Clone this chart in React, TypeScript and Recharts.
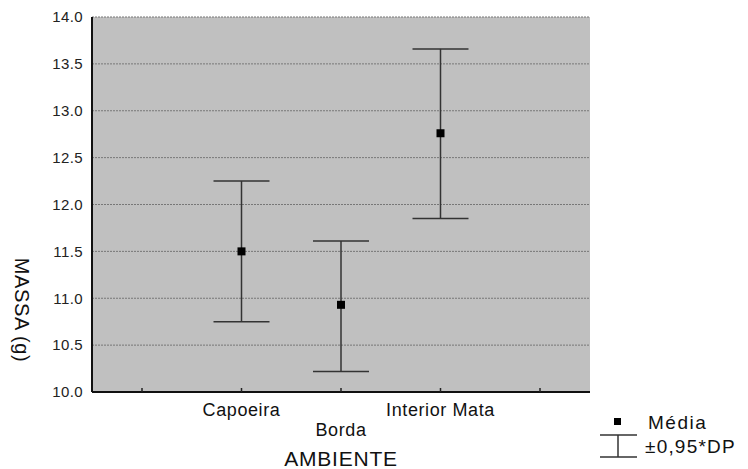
import React from 'react';
import {
  LineChart,
  Line,
  XAxis,
  YAxis,
  CartesianGrid,
  ErrorBar,
  Legend,
} from 'recharts';

const categories = ['', 'Capoeira', 'Borda', 'Interior Mata', ''];
const means = [null, 11.5, 10.93, 12.76, null];
const lower = [null, 10.75, 10.22, 11.85, null];
const upper = [null, 12.25, 11.61, 13.66, null];
const yTicks = [10, 10.5, 11, 11.5, 12, 12.5, 13, 13.5, 14];

const data = categories.map((c, i) => ({
  ambiente: c,
  massa: means[i],
  err: means[i] == null ? null : [means[i]! - lower[i]!, upper[i]! - means[i]!],
}));

const FONT = '"Liberation Sans", Arial, sans-serif';

// half a category band on each side, so the points sit in band centres
const BAND_PAD = { left: 50, right: 50 };

const BottomTick = (props: any) => {
  const { x, y, payload, index } = props;
  const low = index % 2 === 0;
  return (
    <g>
      <line x1={x} x2={x} y1={y - 4} y2={y} stroke="#222" strokeWidth={1.5} />
      <text
        x={x}
        y={y + (low ? 44 : 24)}
        textAnchor="middle"
        fontSize={18}
        letterSpacing={0.6}
        fontFamily={FONT}
        fill="#111"
      >
        {payload.value}
      </text>
    </g>
  );
};

const TopTick = (props: any) => {
  const { x, y } = props;
  return <line x1={x} x2={x} y1={y} y2={y + 4} stroke="#222" strokeWidth={1.5} />;
};

const MeanDot = (props: any) => {
  const { cx, cy, index } = props;
  if (cx == null || cy == null || props.value == null) return <g key={index} />;
  return <rect key={index} x={cx - 4} y={cy - 4} width={8} height={8} fill="#000" />;
};

const LegendBox = () => (
  <svg width={160} height={60} style={{ overflow: 'visible' }}>
    <rect x={24} y={13} width={7} height={7} fill="#000" />
    <text x={58} y={17} dominantBaseline="central" fontSize={19} letterSpacing={1.5} fontFamily={FONT} fill="#111">
      Média
    </text>
    <line x1={10} x2={47} y1={30} y2={30} stroke="#333" strokeWidth={1.5} />
    <line x1={10} x2={47} y1={52} y2={52} stroke="#333" strokeWidth={1.5} />
    <line x1={28} x2={28} y1={30} y2={52} stroke="#333" strokeWidth={1.5} />
    <text x={55} y={41} dominantBaseline="central" fontSize={19} letterSpacing={1.2} fontFamily={FONT} fill="#111">
      ±0,95*DP
    </text>
  </svg>
);

export default function App() {
  return (
    <div style={{ position: 'absolute', left: 0, top: 0, width: 748, height: 469, background: '#fff' }}>
      <LineChart
        width={748}
        height={469}
        data={data}
        margin={{ top: 17, right: 158, bottom: 0, left: 0 }}
      >
        <CartesianGrid
          vertical={false}
          fill="#c0c0c0"
          fillOpacity={1}
          stroke="#777"
          strokeDasharray="2 1"
        />
        <XAxis
          dataKey="ambiente"
          height={77}
          interval={0}
          padding={BAND_PAD}
          tickLine={false}
          tickSize={0}
          tickMargin={0}
          tick={<BottomTick />}
          axisLine={{ stroke: '#111', strokeWidth: 2 }}
          label={{
            value: 'AMBIENTE',
            position: 'insideBottom',
            offset: 3,
            fontSize: 21,
            letterSpacing: 0.8,
            fontFamily: FONT,
            fill: '#111',
          }}
        />
        <XAxis
          xAxisId="top"
          dataKey="ambiente"
          orientation="top"
          height={0}
          interval={0}
          padding={BAND_PAD}
          tickLine={false}
          tickSize={0}
          tickMargin={0}
          tick={<TopTick />}
          axisLine={{ stroke: '#333', strokeWidth: 1.5 }}
        />
        <YAxis
          width={92}
          domain={[10, 14]}
          ticks={yTicks}
          type="number"
          allowDataOverflow
          tickLine={false}
          tickSize={0}
          tickMargin={9}
          tickFormatter={(v: number) => v.toFixed(1)}
          tick={{ fontSize: 15, fill: '#222', fontFamily: FONT, letterSpacing: 0.4 }}
          axisLine={{ stroke: '#111', strokeWidth: 2 }}
          label={{
            content: () => (
              <text
                x={22}
                y={310}
                transform="rotate(90 22 310)"
                textAnchor="middle"
                dominantBaseline="central"
                fontSize={20}
                letterSpacing={0.6}
                fontFamily={FONT}
                fill="#111"
              >
                MASSA (g)
              </text>
            ),
          }}
        />
        <YAxis
          yAxisId="right"
          orientation="right"
          width={0}
          domain={[10, 14]}
          type="number"
          tick={false}
          tickLine={false}
          axisLine={{ stroke: '#333', strokeWidth: 1.5 }}
        />
        <Legend
          layout="horizontal"
          verticalAlign="middle"
          align="center"
          wrapperStyle={{ position: 'absolute', left: 590, top: 405, width: 160, height: 60 }}
          content={() => <LegendBox />}
        />
        <Line
          dataKey="massa"
          stroke="none"
          isAnimationActive={false}
          dot={<MeanDot />}
          activeDot={false}
          legendType="none"
        >
          <ErrorBar dataKey="err" direction="y" width={28} stroke="#333" strokeWidth={1.5} />
        </Line>
      </LineChart>
    </div>
  );
}
